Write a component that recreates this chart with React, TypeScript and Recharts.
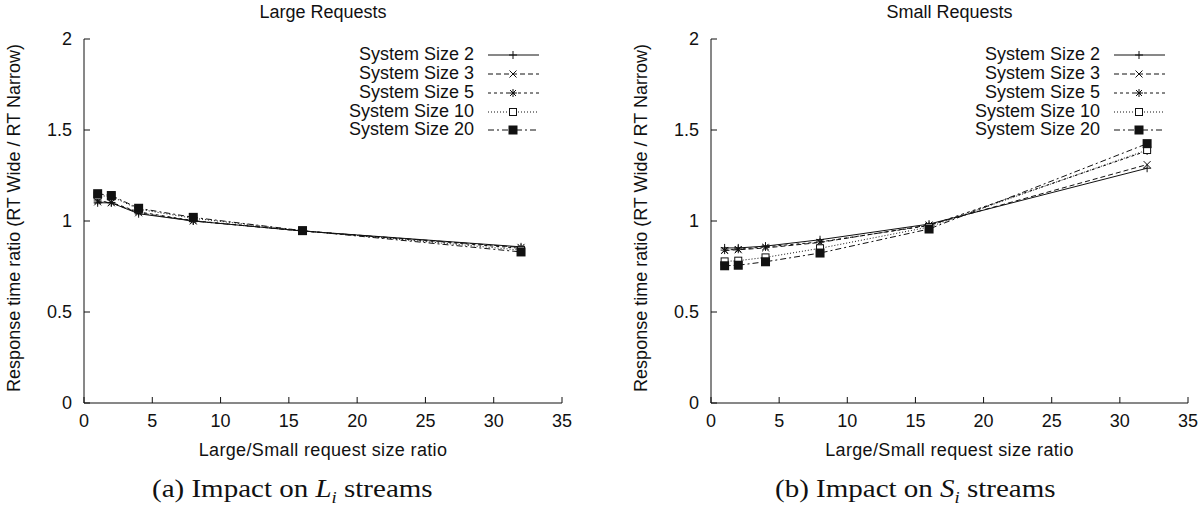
import type { ReactElement } from "react";
import { Line, LineChart, XAxis, YAxis } from "recharts";

const ratios = [1, 2, 4, 8, 16, 32];
const seriesNames = [
  "System Size 2",
  "System Size 3",
  "System Size 5",
  "System Size 10",
  "System Size 20",
];
const xTicks = [0, 5, 10, 15, 20, 25, 30, 35];
const yTicks = [0, 0.5, 1, 1.5, 2];

// large requests panel
const large2 = [1.1, 1.1, 1.04, 1.0, 0.945, 0.858];
const large3 = [1.105, 1.1, 1.045, 1.0, 0.945, 0.855];
const large5 = [1.11, 1.102, 1.05, 1.002, 0.945, 0.85];
const large10 = [1.14, 1.135, 1.065, 1.015, 0.947, 0.84];
const large20 = [1.15, 1.14, 1.07, 1.02, 0.947, 0.83];

// small requests panel
const small2 = [0.852, 0.852, 0.862, 0.897, 0.983, 1.29];
const small3 = [0.838, 0.842, 0.852, 0.882, 0.978, 1.31];
const small5 = [0.84, 0.845, 0.858, 0.885, 0.975, 1.385];
const small10 = [0.778, 0.782, 0.8, 0.85, 0.967, 1.39];
const small20 = [0.754, 0.757, 0.776, 0.824, 0.956, 1.425];

const keys = ["s2", "s3", "s5", "s10", "s20"];
const dashes = ["", "5 3", "3 3", "1 2", "6 3 2 3"];
type MarkerKind = "plus" | "cross" | "star" | "square" | "filled";
const markers: MarkerKind[] = ["plus", "cross", "star", "square", "filled"];

const INK = "#111";
const SANS = "'Liberation Sans', Arial, Helvetica, sans-serif";
const SERIF = "'Liberation Serif', 'Times New Roman', serif";

function buildRows(series: number[][]) {
  return ratios.map((ratio, i) => {
    const row: Record<string, number> = { ratio };
    keys.forEach((k, j) => {
      row[k] = series[j][i];
    });
    return row;
  });
}

const largeRows = buildRows([large2, large3, large5, large10, large20]);
const smallRows = buildRows([small2, small3, small5, small10, small20]);

function Marker({ kind, cx, cy }: { kind: MarkerKind; cx: number; cy: number }) {
  const r = 4;
  switch (kind) {
    case "plus":
      return (
        <g stroke={INK} strokeWidth={1}>
          <line x1={cx - r} y1={cy} x2={cx + r} y2={cy} />
          <line x1={cx} y1={cy - r} x2={cx} y2={cy + r} />
        </g>
      );
    case "cross":
      return (
        <g stroke={INK} strokeWidth={1}>
          <line x1={cx - 3.5} y1={cy - 3.5} x2={cx + 3.5} y2={cy + 3.5} />
          <line x1={cx - 3.5} y1={cy + 3.5} x2={cx + 3.5} y2={cy - 3.5} />
        </g>
      );
    case "star":
      return (
        <g stroke={INK} strokeWidth={1}>
          <line x1={cx - r} y1={cy} x2={cx + r} y2={cy} />
          <line x1={cx} y1={cy - r} x2={cx} y2={cy + r} />
          <line x1={cx - 3} y1={cy - 3} x2={cx + 3} y2={cy + 3} />
          <line x1={cx - 3} y1={cy + 3} x2={cx + 3} y2={cy - 3} />
        </g>
      );
    case "square":
      return (
        <rect x={cx - 3.5} y={cy - 3.5} width={7} height={7} fill="#fff" stroke={INK} strokeWidth={1} />
      );
    default:
      return <rect x={cx - 4.5} y={cy - 4.5} width={9} height={9} fill={INK} />;
  }
}

function dotFor(kind: MarkerKind) {
  return (props: { cx?: number; cy?: number; index?: number }): ReactElement => (
    <Marker key={`${kind}-${props.index}`} kind={kind} cx={props.cx ?? 0} cy={props.cy ?? 0} />
  );
}

function LegendBox({ right, top }: { right: number; top: number }) {
  return (
    <div style={{ position: "absolute", right, top, fontFamily: SANS, fontSize: 18 }}>
      {seriesNames.map((name, i) => (
        <div
          key={name}
          style={{ display: "flex", alignItems: "center", justifyContent: "flex-end", height: 18.75 }}
        >
          <span style={{ lineHeight: "19px", whiteSpace: "nowrap" }}>{name}</span>
          <svg width={66} height={19}>
            <line
              x1={14}
              x2={65}
              y1={10}
              y2={10}
              stroke={INK}
              strokeWidth={1}
              strokeDasharray={dashes[i] || undefined}
            />
            <Marker kind={markers[i]} cx={39} cy={10} />
          </svg>
        </div>
      ))}
    </div>
  );
}

type PanelProps = {
  rows: Record<string, number>[];
  left: number;
  yAxisWidth: number;
  rightMargin: number;
  title: string;
};

const CHART_W = 602;
const CHART_H = 440;
const PLOT_TOP = 39;
const PLOT_BOTTOM = 403;

function Panel({ rows, left, yAxisWidth, rightMargin, title }: PanelProps) {
  const plotLeft = yAxisWidth;
  const plotRight = CHART_W - rightMargin;
  const mid = (plotLeft + plotRight) / 2;
  const tickStyle = { fontSize: 18, fill: INK, fontFamily: SANS };
  return (
    <div style={{ position: "absolute", left, top: 0, width: CHART_W, height: 505 }}>
      <div
        style={{
          position: "absolute",
          left: mid,
          top: 12,
          transform: "translate(-50%, -50%)",
          fontFamily: SANS,
          fontSize: 18,
          whiteSpace: "nowrap",
        }}
      >
        {title}
      </div>
      <div
        style={{
          position: "absolute",
          left: yAxisWidth - 70,
          top: 218,
          transform: "translate(-50%, -50%) rotate(-90deg)",
          fontFamily: SANS,
          fontSize: 18,
          whiteSpace: "nowrap",
        }}
      >
        Response time ratio (RT Wide / RT Narrow)
      </div>
      <div
        style={{
          position: "absolute",
          left: mid,
          top: 450,
          transform: "translate(-50%, -50%)",
          fontFamily: SANS,
          fontSize: 18,
          letterSpacing: 0.35,
          whiteSpace: "nowrap",
        }}
      >
        Large/Small request size ratio
      </div>
      <LineChart
        width={CHART_W}
        height={CHART_H}
        data={rows}
        margin={{ top: PLOT_TOP, right: rightMargin, bottom: 0, left: 0 }}
      >
        <XAxis
          dataKey="ratio"
          type="number"
          domain={[0, 35]}
          ticks={xTicks}
          height={CHART_H - PLOT_BOTTOM}
          tickSize={-6}
          tickMargin={17}
          tick={tickStyle}
          stroke={INK}
          interval={0}
        />
        <XAxis
          xAxisId="top"
          dataKey="ratio"
          type="number"
          orientation="top"
          domain={[0, 35]}
          ticks={xTicks}
          height={0}
          tickSize={-6}
          tickFormatter={() => ""}
          stroke={INK}
          interval={0}
        />
        <YAxis
          type="number"
          domain={[0, 2]}
          ticks={yTicks}
          width={yAxisWidth}
          tickSize={-6}
          tickMargin={18}
          tick={tickStyle}
          stroke={INK}
          interval={0}
        />
        <YAxis
          yAxisId="right"
          type="number"
          orientation="right"
          domain={[0, 2]}
          ticks={yTicks}
          width={0}
          tickSize={-6}
          tickFormatter={() => ""}
          stroke={INK}
          interval={0}
        />
        {keys.map((k, i) => (
          <Line
            key={k}
            dataKey={k}
            type="linear"
            stroke={INK}
            strokeWidth={1}
            strokeDasharray={dashes[i] || undefined}
            dot={dotFor(markers[i])}
            activeDot={false}
            isAnimationActive={false}
          />
        ))}
      </LineChart>
      <LegendBox right={rightMargin + 22} top={45.5} />
    </div>
  );
}

function Caption({ left, letter, sym }: { left: number; letter: string; sym: string }) {
  return (
    <div
      style={{
        position: "absolute",
        left,
        top: 476,
        fontFamily: SERIF,
        fontSize: 25,
        lineHeight: "25px",
        whiteSpace: "nowrap",
        transform: "scaleX(1.16)",
        transformOrigin: "left center",
      }}
    >
      ({letter}) Impact on <i>{sym}</i>
      <sub style={{ fontSize: 16, fontStyle: "italic", lineHeight: 0 }}>i</sub> streams
    </div>
  );
}

export default function App() {
  return (
    <div
      style={{
        position: "absolute",
        left: 0,
        top: 0,
        width: 1204,
        height: 505,
        background: "#fff",
        color: INK,
        fontFamily: SANS,
      }}
    >
      <Panel rows={largeRows} left={0} yAxisWidth={84} rightMargin={40} title="Large Requests" />
      <Panel rows={smallRows} left={602} yAxisWidth={109} rightMargin={16} title="Small Requests" />
      <Caption left={152} letter="a" sym="L" />
      <Caption left={775} letter="b" sym="S" />
    </div>
  );
}
